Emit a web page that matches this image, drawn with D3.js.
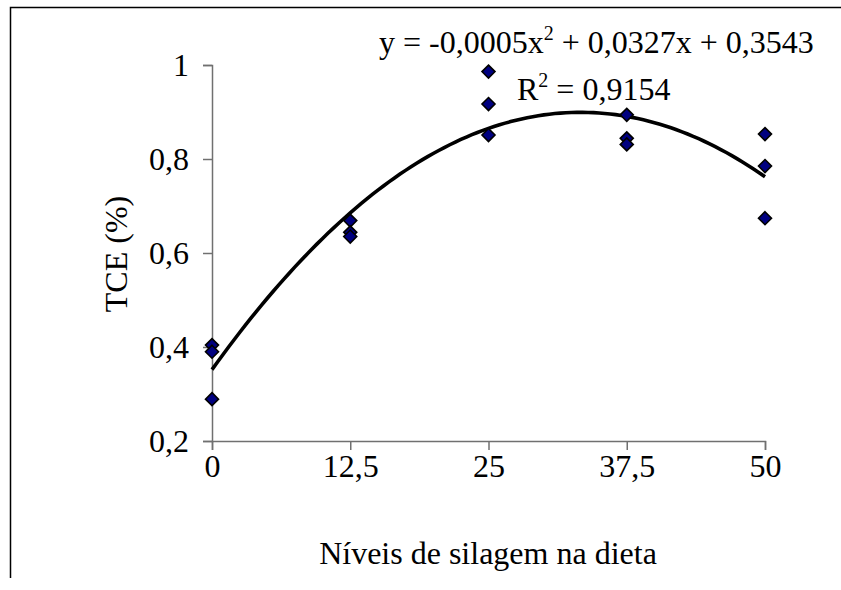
<!DOCTYPE html>
<html>
<head>
<meta charset="utf-8">
<script src="https://cdn.jsdelivr.net/npm/d3@7"></script>
<style>
  body { margin: 0; background: #fff; }
  svg text { font-family: "Liberation Serif", "Times New Roman", serif; fill: #000; }
</style>
</head>
<body>
<svg id="chart" width="841" height="590"></svg>
<script>
// Níveis de silagem (x) and TCE values
const levels = [0, 0, 0, 12.5, 12.5, 12.5, 25, 25, 25, 37.5, 37.5, 37.5, 50, 50, 50];
const tce = [0.404, 0.39, 0.289, 0.669, 0.644, 0.635, 0.986, 0.917, 0.851, 0.894, 0.844, 0.831, 0.853, 0.785, 0.674];
const xTicks = [0, 12.5, 25, 37.5, 50];
const yTicks = [0.2, 0.4, 0.6, 0.8, 1];

const data = levels.map((x, i) => ({x: x, y: tce[i]}));

const svg = d3.select("#chart");
const fmt = v => String(v).replace(".", ",");
const fontSize = "32px";

// outer frame (cut off at right and bottom like the source)
svg.append("path")
    .attr("d", "M10.5,578 V7.5 H841")
    .attr("fill", "none")
    .attr("stroke", "#000")
    .attr("stroke-width", 1.5);

const xScale = d3.scaleLinear().domain([0, 50]).range([212, 765]);
const yScale = d3.scaleLinear().domain([0.2, 1]).range([441, 65]);

// axes
const xAxis = svg.append("g")
    .attr("transform", "translate(0,441)")
    .call(d3.axisBottom(xScale).tickValues(xTicks).tickSize(9).tickPadding(4).tickFormat(fmt));

const yAxis = svg.append("g")
    .attr("transform", "translate(212,0)")
    .call(d3.axisLeft(yScale).tickValues(yTicks).tickSize(9).tickPadding(14).tickFormat(fmt));

[xAxis, yAxis].forEach(g => {
    g.select(".domain").attr("stroke", "#707070").attr("stroke-width", 1.5);
    g.selectAll(".tick line").attr("stroke", "#707070").attr("stroke-width", 1.5);
    g.selectAll(".tick text").attr("font-size", fontSize);
});
yAxis.selectAll(".tick text").attr("dy", "0.34em");

// polynomial trendline (order 2, least squares like a spreadsheet)
function quadFit(pts) {
    let s = [0, 0, 0, 0, 0], t = [0, 0, 0];
    pts.forEach(p => {
        for (let k = 0; k < 5; k++) s[k] += Math.pow(p.x, k);
        for (let k = 0; k < 3; k++) t[k] += Math.pow(p.x, k) * p.y;
    });
    const m = [[s[0], s[1], s[2], t[0]], [s[1], s[2], s[3], t[1]], [s[2], s[3], s[4], t[2]]];
    for (let i = 0; i < 3; i++) {
        for (let j = i + 1; j < 3; j++) {
            const f = m[j][i] / m[i][i];
            for (let k = i; k < 4; k++) m[j][k] -= f * m[i][k];
        }
    }
    const c = [0, 0, 0];
    for (let i = 2; i >= 0; i--) {
        let v = m[i][3];
        for (let k = i + 1; k < 3; k++) v -= m[i][k] * c[k];
        c[i] = v / m[i][i];
    }
    return c;
}
const coef = quadFit(data);
const curve = d3.range(0, 50.01, 0.5).map(x => ({x: x, y: coef[0] + coef[1] * x + coef[2] * x * x}));

svg.append("path")
    .datum(curve)
    .attr("fill", "none")
    .attr("stroke", "#000")
    .attr("stroke-width", 3.6)
    .attr("d", d3.line().x(d => xScale(d.x)).y(d => yScale(d.y)));

// markers
svg.selectAll(".pt")
    .data(data)
    .enter()
    .append("path")
    .attr("class", "pt")
    .attr("transform", d => `translate(${xScale(d.x)},${yScale(d.y)})`)
    .attr("d", "M0,-6.5 L6.5,0 L0,6.5 L-6.5,0 Z")
    .attr("fill", "#000080")
    .attr("stroke", "#000")
    .attr("stroke-width", 1.6);

// equation labels
const eq = svg.append("text")
    .attr("x", 379)
    .attr("y", 53)
    .attr("font-size", fontSize);
eq.append("tspan").text("y = -0,0005x");
eq.append("tspan").attr("font-size", "20px").attr("dy", "-13").text("2");
eq.append("tspan").attr("dy", "13").text(" + 0,0327x + 0,3543");

const r2 = svg.append("text")
    .attr("x", 517)
    .attr("y", 100)
    .attr("font-size", fontSize);
r2.append("tspan").text("R");
r2.append("tspan").attr("font-size", "20px").attr("dy", "-13").text("2");
r2.append("tspan").attr("dy", "13").text(" = 0,9154");

// axis titles
svg.append("text")
    .attr("x", 488)
    .attr("y", 564)
    .attr("text-anchor", "middle")
    .attr("font-size", fontSize)
    .text("Níveis de silagem na dieta");

svg.append("text")
    .attr("transform", "translate(127,254) rotate(-90)")
    .attr("text-anchor", "middle")
    .attr("font-size", fontSize)
    .text("TCE (%)");
</script>
</body>
</html>
